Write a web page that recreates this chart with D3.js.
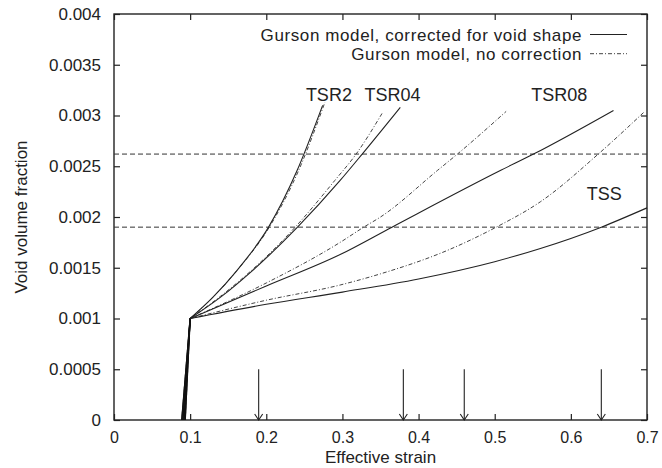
<!DOCTYPE html>
<html>
<head>
<meta charset="utf-8">
<script src="https://cdn.jsdelivr.net/npm/d3@7"></script>
<style>
  body { margin: 0; background: #fff; }
  svg { display: block; font-family: "Liberation Sans", Arial, sans-serif; }
</style>
</head>
<body>
<svg id="chart"></svg>
<script>
// tick values
const xTicks = [0, 0.1, 0.2, 0.3, 0.4, 0.5, 0.6, 0.7];
const yTicks = [0, 0.0005, 0.001, 0.0015, 0.002, 0.0025, 0.003, 0.0035, 0.004];
const yTickLabels = ["0", "0.0005", "0.001", "0.0015", "0.002", "0.0025", "0.003", "0.0035", "0.004"];

// cases (same order in all arrays below)
const cases = ["TSR2", "TSR04", "TSR08", "TSS"];
const startStrain = [0.0935, 0.092, 0.0905, 0.089];

// Gurson model, corrected for void shape
const correctedStrain = [
  [0.1, 0.13, 0.16, 0.203, 0.24, 0.274],
  [0.1, 0.14, 0.18, 0.241, 0.297, 0.326, 0.376],
  [0.1, 0.2, 0.297, 0.365, 0.508, 0.551, 0.656],
  [0.1, 0.2, 0.3, 0.4, 0.5, 0.56, 0.64, 0.7]
];
const correctedFraction = [
  [0.001, 0.00121, 0.00146, 0.0019, 0.00245, 0.0031],
  [0.001, 0.00121, 0.00146, 0.0019, 0.00236, 0.00262, 0.00308],
  [0.001, 0.00132, 0.00163, 0.0019, 0.00246, 0.00262, 0.00305],
  [0.001, 0.00114, 0.00126, 0.00139, 0.00156, 0.00169, 0.0019, 0.00209]
];

// Gurson model, no correction
const plainStrain = [
  [0.1, 0.13, 0.16, 0.204, 0.242, 0.277],
  [0.1, 0.14, 0.18, 0.238, 0.29, 0.318, 0.352],
  [0.1, 0.2, 0.297, 0.328, 0.35, 0.425, 0.451, 0.515],
  [0.1, 0.2, 0.297, 0.35, 0.4375, 0.502, 0.56, 0.636, 0.697]
];
const plainFraction = [
  [0.001, 0.00121, 0.00146, 0.0019, 0.00245, 0.00313],
  [0.001, 0.00122, 0.00147, 0.0019, 0.00236, 0.00262, 0.00302],
  [0.001, 0.00135, 0.00175, 0.0019, 0.002, 0.00246, 0.00262, 0.00304],
  [0.001, 0.00118, 0.00133, 0.00144, 0.00167, 0.0019, 0.00215, 0.00262, 0.00304]
];

// horizontal reference levels and failure strains (arrows)
const levels = [0.00262, 0.0019];
const arrowStrain = [0.19, 0.38, 0.46, 0.64];
const arrowTop = 0.0005;

const width = 662, height = 468;
const svg = d3.select("#chart").attr("width", width).attr("height", height);

const x = d3.scaleLinear().domain([0, 0.7]).range([114, 647]);
const y = d3.scaleLinear().domain([0, 0.004]).range([420, 14]);

const ink = "#222";

// frame
svg.append("rect")
  .attr("x", x(0)).attr("y", y(0.004))
  .attr("width", x(0.7) - x(0)).attr("height", y(0) - y(0.004))
  .attr("fill", "none").attr("stroke", ink).attr("stroke-width", 1.4);

// axes with inward ticks on all four sides
function styleAxis(size) {
  return g => {
    g.select(".domain").remove();
    g.selectAll(".tick line").attr("stroke", ink).attr("stroke-width", 1.2);
    g.selectAll(".tick text").attr("fill", ink).attr("font-family", null).style("font-size", size);
  };
}
svg.append("g").attr("transform", `translate(0,${y(0)})`)
  .call(d3.axisBottom(x).tickValues(xTicks).tickSizeInner(-6).tickSizeOuter(0).tickPadding(12).tickFormat(d => d))
  .call(styleAxis("16px"));
svg.append("g").attr("transform", `translate(0,${y(0.004)})`)
  .call(d3.axisTop(x).tickValues(xTicks).tickSizeInner(-6).tickSizeOuter(0).tickFormat(""))
  .call(styleAxis("16px"));
svg.append("g").attr("transform", `translate(${x(0)},0)`)
  .call(d3.axisLeft(y).tickValues(yTicks).tickSizeInner(-6).tickSizeOuter(0).tickPadding(13)
        .tickFormat((d, i) => yTickLabels[i]))
  .call(styleAxis("17px"));
svg.append("g").attr("transform", `translate(${x(0.7)},0)`)
  .call(d3.axisRight(y).tickValues(yTicks).tickSizeInner(-6).tickSizeOuter(0).tickFormat(""))
  .call(styleAxis("17px"));

// axis titles
svg.append("text")
  .attr("x", (x(0) + x(0.7)) / 2).attr("y", 463)
  .attr("text-anchor", "middle").attr("fill", ink).style("font-size", "17px")
  .text("Effective strain");
svg.append("text")
  .attr("transform", `translate(27,${(y(0) + y(0.004)) / 2}) rotate(-90)`)
  .attr("text-anchor", "middle").attr("fill", ink).style("font-size", "17px")
  .text("Void volume fraction");

// horizontal dashed levels
svg.selectAll(".level")
  .data(levels)
  .enter()
  .append("line")
  .attr("class", "level")
  .attr("x1", x(0)).attr("x2", x(0.7))
  .attr("y1", d => y(d)).attr("y2", d => y(d))
  .attr("stroke", "#333").attr("stroke-width", 1)
  .attr("stroke-dasharray", "5,3");

const curve = d3.line().x(d => x(d[0])).y(d => y(d[1])).curve(d3.curveMonotoneX);
const straight = d3.line().x(d => x(d[0])).y(d => y(d[1]));

const solidStyle = { stroke: "#222", width: 1.1, dash: null };
const dashDotStyle = { stroke: "#444", width: 1, dash: "4,2,1,2" };

function drawSet(strains, fractions, style) {
  cases.forEach((c, i) => {
    const pts = strains[i].map((s, j) => [s, fractions[i][j]]);
    svg.append("path")
      .attr("d", straight([[startStrain[i], 0], pts[0]]))
      .attr("fill", "none").attr("stroke", "#111").attr("stroke-width", 1.3);
    svg.append("path")
      .attr("d", curve(pts))
      .attr("fill", "none")
      .attr("stroke", style.stroke)
      .attr("stroke-width", style.width)
      .attr("stroke-dasharray", style.dash);
  });
}
drawSet(plainStrain, plainFraction, dashDotStyle);
drawSet(correctedStrain, correctedFraction, solidStyle);

// arrows marking failure strains
arrowStrain.forEach(s => {
  const g = svg.append("g").attr("stroke", ink).attr("stroke-width", 1.1).attr("fill", "none");
  g.append("line").attr("x1", x(s)).attr("x2", x(s)).attr("y1", y(arrowTop)).attr("y2", y(0));
  g.append("path").attr("d", `M${x(s) - 4},${y(0) - 6}L${x(s)},${y(0)}L${x(s) + 4},${y(0) - 6}`);
});

// case labels
const labelPos = [[0.252, 0.00314], [0.329, 0.00314], [0.548, 0.00314], [0.621, 0.00217]];
svg.selectAll(".case")
  .data(cases)
  .enter()
  .append("text")
  .attr("class", "case")
  .attr("x", (d, i) => x(labelPos[i][0]))
  .attr("y", (d, i) => y(labelPos[i][1]))
  .attr("fill", ink).style("font-size", "18px")
  .text(d => d);

// legend
const legend = [
  { text: "Gurson model, corrected for void shape", style: solidStyle },
  { text: "Gurson model, no correction", style: dashDotStyle }
];
legend.forEach((l, i) => {
  const ly = 34.5 + i * 19.2;
  svg.append("text")
    .attr("x", 582).attr("y", ly + 6)
    .attr("text-anchor", "end").attr("fill", ink)
    .style("font-size", "17px").style("letter-spacing", "0.6px")
    .text(l.text);
  svg.append("line")
    .attr("x1", 590).attr("x2", 627).attr("y1", ly).attr("y2", ly)
    .attr("stroke", l.style.stroke).attr("stroke-width", l.style.width)
    .attr("stroke-dasharray", l.style.dash);
});
</script>
</body>
</html>
